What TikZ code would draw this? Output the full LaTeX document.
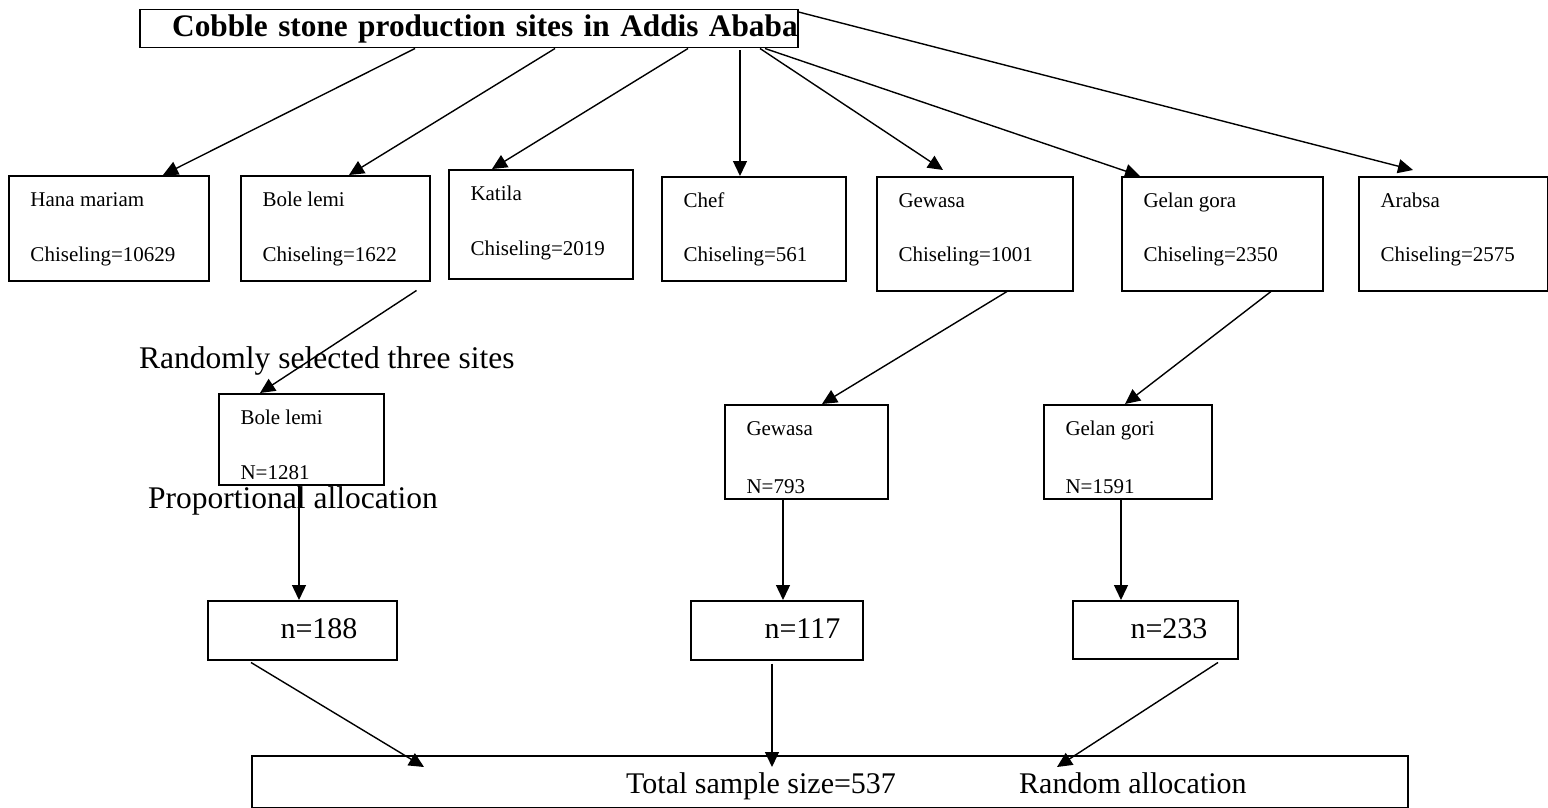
\documentclass[tikz,border=0pt]{standalone}
\usepackage{fontspec}
\setmainfont{Liberation Serif}
\usetikzlibrary{arrows.meta}

\tikzset{
  box/.style={draw, line width=1.5pt, anchor=north west, inner sep=0pt},
  intext/.style={anchor=base west, inner sep=0pt, minimum width=0pt, minimum height=0pt},
  sitebox/.style n args={3}{box, path picture={
      \node[intext, font=\fontsize{21}{25}\selectfont]
        at ([shift={(21pt,-31pt)}]path picture bounding box.north west) {#1};
      \node[intext, font=\fontsize{21}{25}\selectfont]
        at ([shift={(21pt,-#3)}]path picture bounding box.north west) {#2};}},
  allocbox/.style 2 args={box, path picture={
      \node[intext, font=\fontsize{30}{36}\selectfont]
        at ([shift={(#2,-38pt)}]path picture bounding box.north west) {#1};}},
  lbl/.style={anchor=base west, inner sep=0pt, font=\fontsize{31.5}{38}\selectfont},
  arr/.style={-{Triangle[length=15pt,width=14pt]}, line width=1.4pt}
}

\begin{document}
\begin{tikzpicture}[x=1pt,y=-1pt]
  \useasboundingbox (0,0) rectangle (1548,808);
  % title
  \node[box, minimum width=658pt, minimum height=38pt, text width=658pt, align=right,
        font=\bfseries\fontsize{31.3}{38}\selectfont] (title) at (139,9)
        {Cobble stone production sites in Addis Ababa};
  % production sites
  \node[sitebox={Hana mariam}{Chiseling=10629}{86pt}, minimum width=200pt, minimum height=105pt] (hana) at (8,175) {};
  \node[sitebox={Bole lemi}{Chiseling=1622}{86pt}, minimum width=189pt, minimum height=105pt] (bole) at (240,175) {};
  \node[sitebox={Katila}{Chiseling=2019}{86pt}, minimum width=184pt, minimum height=109pt] (katila) at (448,169) {};
  \node[sitebox={Chef}{Chiseling=561}{85pt}, minimum width=184pt, minimum height=104pt] (chef) at (661,176) {};
  \node[sitebox={Gewasa}{Chiseling=1001}{85pt}, minimum width=196pt, minimum height=114pt] (gewasa) at (876,176) {};
  \node[sitebox={Gelan gora}{Chiseling=2350}{85pt}, minimum width=201pt, minimum height=114pt] (gelan) at (1121,176) {};
  \node[sitebox={Arabsa}{Chiseling=2575}{85pt}, minimum width=189pt, minimum height=114pt] (arabsa) at (1358,176) {};
  % selected sites
  \node[lbl] (rand) at (139,368) {Randomly selected three sites};
  \node[sitebox={Bole lemi}{N=1281}{86pt}, minimum width=165pt, minimum height=91pt] (lbole) at (218,393) {};
  \node[sitebox={Gewasa}{N=793}{89pt}, minimum width=163pt, minimum height=94pt] (lgewasa) at (724,404) {};
  \node[sitebox={Gelan gori}{N=1591}{89pt}, minimum width=168pt, minimum height=94pt] (lgelan) at (1043,404) {};
  % allocation
  \node[lbl] (prop) at (148,508) {Proportional allocation};
  \node[allocbox={n=188}{72pt}, minimum width=189pt, minimum height=59pt] (nbole) at (207,600) {};
  \node[allocbox={n=117}{73pt}, minimum width=172pt, minimum height=59pt] (ngewasa) at (690,600) {};
  \node[allocbox={n=233}{57pt}, minimum width=165pt, minimum height=58pt] (ngelan) at (1072,600) {};
  \node[box, minimum width=1156pt, minimum height=52pt] (total) at (251,755) {};
  \node[lbl, font=\fontsize{30}{36}\selectfont] (tss) at ([shift={(375pt,-38pt)}]total.north west) {Total sample size=537};
  \node[lbl, font=\fontsize{30}{36}\selectfont] (ralloc) at ([shift={(768pt,-38pt)}]total.north west) {Random allocation};

  \draw[arr] ([xshift=276pt]title.south west) -- ([xshift=155pt]hana.north west);
  \draw[arr] ([xshift=416pt]title.south west) -- ([xshift=109pt]bole.north west);
  \draw[arr] ([xshift=549pt]title.south west) -- ([xshift=44pt]katila.north west);
  \draw[arr] ([shift={(601pt,-2pt)}]title.south west) -- ([xshift=79pt]chef.north west);
  \draw[arr] ([xshift=621pt]title.south west) -- ([shift={(67pt,6pt)}]gewasa.north west);
  \draw[arr] ([xshift=626pt]title.south west) -- ([xshift=19pt]gelan.north west);
  \draw[arr] ([yshift=-3pt]title.north east) -- ([shift={(55pt,6pt)}]arabsa.north west);

  \draw[arr] ([shift={(-14pt,-9pt)}]bole.south east) -- ([xshift=42pt]lbole.north west);
  \draw[arr] ([xshift=131pt]gewasa.south west) -- ([xshift=98pt]lgewasa.north west);
  \draw[arr] ([xshift=150pt]gelan.south west) -- ([xshift=82pt]lgelan.north west);

  \draw[arr] ([xshift=81pt]lbole.south west) -- ([xshift=92pt]nbole.north west);
  \draw[arr] ([xshift=59pt]lgewasa.south west) -- ([xshift=93pt]ngewasa.north west);
  \draw[arr] ([xshift=78pt]lgelan.south west) -- ([xshift=49pt]ngelan.north west);

  \draw[arr] ([shift={(44pt,-2pt)}]nbole.south west) -- ([shift={(173pt,-12pt)}]total.north west);
  \draw[arr] ([shift={(82pt,-3pt)}]ngewasa.south west) -- ([shift={(521pt,-12pt)}]total.north west);
  \draw[arr] ([shift={(146pt,-3pt)}]ngelan.south west) -- ([shift={(806pt,-12pt)}]total.north west);
\end{tikzpicture}
\end{document}
